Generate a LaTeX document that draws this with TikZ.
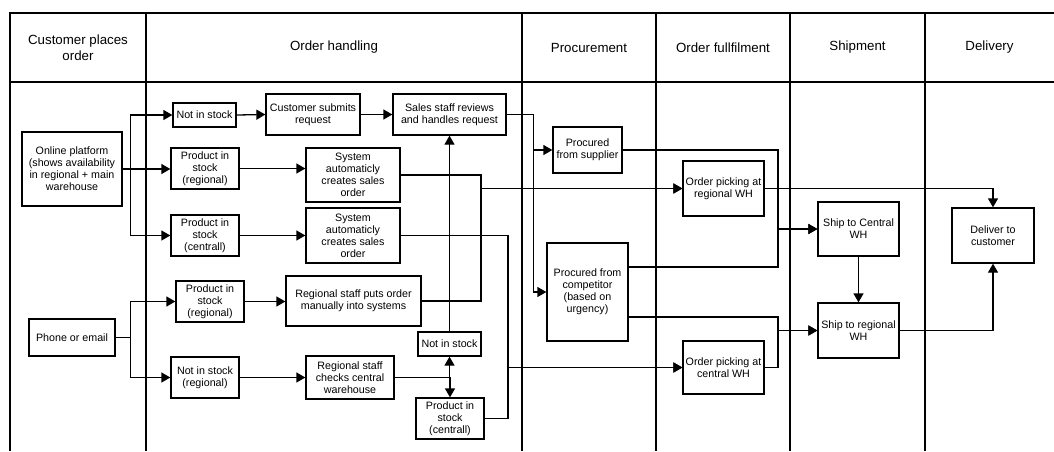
\documentclass[tikz,border=0pt]{standalone}
\usepackage{fontspec}
\setmainfont{Liberation Sans}
\usetikzlibrary{arrows.meta}
\begin{document}
\begin{tikzpicture}[x=1pt,y=-1pt,
  box/.style={draw=black,line width=1.3pt,align=center,inner sep=0pt,font=\fontsize{10.7}{12}\selectfont},
  arr/.style={draw=black,line width=1.3pt,-{Triangle[length=9pt,width=10pt]}},
  conn/.style={draw=black,line width=1.3pt},
  gridline/.style={draw=black,line width=1.3pt},
  head/.style={align=center,font=\fontsize{13.3}{16}\selectfont}]
\useasboundingbox (0,0) rectangle (1054,451);
% table
\draw[gridline] (1054,13) -- (10,13) -- (10,451);
\draw[gridline] (10,82) -- (1054,82);
\foreach \x in {146,522,656,790,925} \draw[gridline] (\x,13) -- (\x,451);
\node[head] (h1) at (78,47.5) {Customer places\\order};
\node[head] (h2) at (334,47.5) {Order handling};
\node[head] (h3) at (589,47.5) {Procurement};
\node[head] (h4) at (723,47.5) {Order fullfilment};
\node[head] (h5) at (857.5,47.5) {Shipment};
\node[head] (h6) at (989.5,47.5) {Delivery};
% nodes
\node[box,minimum width=100pt,minimum height=74pt] (online) at (72,169) {Online platform\\(shows availability\\in regional + main\\warehouse};
\node[box,minimum width=86pt,minimum height=37pt] (phone) at (72,337.5) {Phone or email};
\node[box,minimum width=63pt,minimum height=24pt] (nis1) at (204.5,115) {Not in stock};
\node[box,minimum width=68pt,minimum height=41pt] (pisr1) at (205,168.5) {Product in\\stock\\(regional)};
\node[box,minimum width=68pt,minimum height=41pt] (pisc1) at (205,235.5) {Product in\\stock\\(centrall)};
\node[box,minimum width=94pt,minimum height=41pt] (csr) at (313,114.5) {Customer submits\\request};
\node[box,minimum width=113pt,minimum height=41pt] (ssr) at (449.5,114.5) {Sales staff reviews\\and handles request};
\node[box,minimum width=94pt,minimum height=54pt] (sys1) at (353,175) {System\\automaticly\\creates sales\\order};
\node[box,minimum width=94pt,minimum height=55pt] (sys2) at (353,235.5) {System\\automaticly\\creates sales\\order};
\node[box,minimum width=68pt,minimum height=41pt] (pisr2) at (210,301.5) {Product in\\stock\\(regional)};
\node[box,minimum width=68pt,minimum height=41pt] (nisr) at (205,377.5) {Not in stock\\(regional)};
\node[box,minimum width=135pt,minimum height=50pt] (rsp) at (353.5,301) {Regional staff puts order\\manually into systems};
\node[box,minimum width=88pt,minimum height=43pt] (rsc) at (350,377.5) {Regional staff\\checks central\\warehouse};
\node[box,minimum width=63pt,minimum height=24pt] (nis2) at (449.5,344) {Not in stock};
\node[box,minimum width=68pt,minimum height=41pt] (pisc2) at (450,418.5) {Product in\\stock\\(centrall)};
\node[box,minimum width=69pt,minimum height=46pt] (pfs) at (587.5,150) {Procured\\from supplier};
\node[box,minimum width=81pt,minimum height=98pt] (pfc) at (587.5,292) {Procured from\\competitor\\(based on\\urgency)};
\node[box,minimum width=81pt,minimum height=55pt] (opr) at (723.5,188.5) {Order picking at\\regional WH};
\node[box,minimum width=81pt,minimum height=53pt] (opc) at (723.5,367.5) {Order picking at\\central WH};
\node[box,minimum width=81pt,minimum height=54pt] (stc) at (858.5,229) {Ship to Central\\WH};
\node[box,minimum width=81pt,minimum height=55pt] (str) at (858.5,330.5) {Ship to regional\\WH};
\node[box,minimum width=82pt,minimum height=55pt] (dtc) at (993,235.5) {Deliver to\\customer};
% junction coordinates
\coordinate (j1) at (481,188.5);
\coordinate (j2) at (508,367.5);
\coordinate (j4) at (778,229);
\coordinate (j5) at (778,330.5);
% connectors
\draw[arr] (online.east) -- ++(8,0) |- (nis1.west);
\draw[arr] (online.east) -- (online.east -| pisr1.west);
\draw[arr] (online.east) -- ++(8,0) |- (pisc1.west);
\draw[arr] (nis1.east) -- (csr.west);
\draw[arr] (csr.east) -- (ssr.west);
\draw[arr] (pisr1.east) -- (pisr1.east -| sys1.west);
\draw[arr] (pisc1.east) -- (pisc1.east -| sys2.west);
\draw[arr] (sys1.east) -| (j1) -- (opr.west);
\draw[arr] (rsp.east) -| (j1) -- (opr.west);
\draw[arr] (sys2.east) -| (j2) -- (opc.west);
\draw[arr] (pisc2.east) -| (j2) -- (opc.west);
\draw[arr] (ssr.east) -- ++(27,0) |- (pfs.west);
\draw[arr] (ssr.east) -- ++(27,0) |- (pfc.west);
\draw[arr] (pfs.east) -| (j4) -- (stc.west);
\draw[arr] ([yshift=25pt]pfc.east) -| (j4) -- (stc.west);
\draw[arr] ([yshift=-25pt]pfc.east) -| (j5) -- (str.west);
\draw[arr] (opc.east) -| (j5) -- (str.west);
\draw[arr] (opr.east) -| (dtc.north);
\draw[arr] (stc.south) -- (str.north);
\draw[arr] (str.east) -| (dtc.south);
\draw[arr] (phone.east) -- ++(15,0) |- (pisr2.west);
\draw[arr] (phone.east) -- ++(15,0) |- (nisr.west);
\draw[arr] (pisr2.east) -- (pisr2.east -| rsp.west);
\draw[arr] (nisr.east) -- (nisr.east -| rsc.west);
\draw[arr] (rsc.east) -| (nis2.south);
\draw[arr] (rsc.east) -| (pisc2.north);
\draw[arr] (nis2.north) -- (nis2.north |- ssr.south);
\end{tikzpicture}
\end{document}
